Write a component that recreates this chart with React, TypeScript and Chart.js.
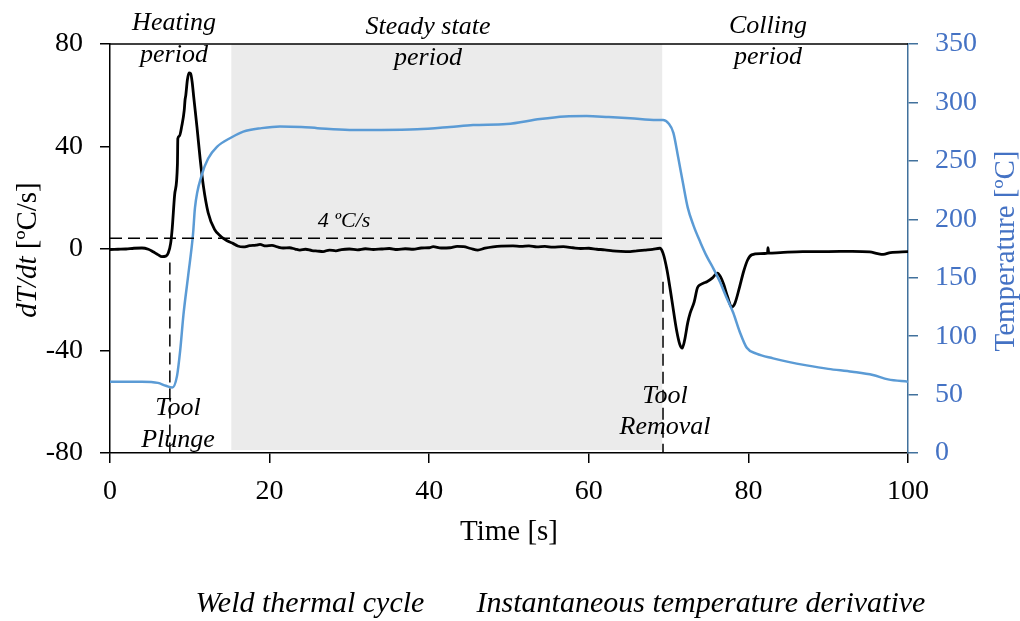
import React, { useEffect, useRef } from 'react';
import { Chart, registerables } from 'chart.js';

Chart.register(...registerables);

// ---- data ----
const timeDeriv = [
  0, 1, 2, 3, 4, 4.8, 5.4, 6.0, 6.5, 7.0, 7.3, 7.6, 7.8, 8.1, 8.45, 8.5, 8.7, 9.0, 9.3, 9.4, 9.5, 9.7, 9.9, 10.1, 10.3, 10.5,
  10.9, 11.3, 11.7, 12.3, 13.1, 13.8, 14.2, 15.0, 15.4, 16.0, 16.7, 17.5, 18.3, 18.8, 19.5, 20.3, 21.0, 21.7, 22.5, 23.2,
  23.8, 24.5, 25.3, 26.0, 26.7, 27.5, 28.3, 29.0, 30, 31, 32, 33, 34, 35, 36, 37, 38, 39, 40, 40.5, 41.5, 42.6, 43.5, 44.3,
  45.2, 46.1, 47, 48, 49, 50.5, 51.5, 52.5, 53.5, 54.5, 55.5, 56.8, 58, 59, 60, 61, 62, 63, 64, 65.2, 66, 67, 68, 68.9,
  69.3, 69.8, 70.4, 71.0, 71.4, 71.7, 72.0, 72.4, 72.7, 73.2, 73.6, 73.9, 74.4, 74.8, 75.5, 76.1, 76.5, 76.9, 77.4, 77.9,
  78.3, 78.9, 79.4, 79.9, 80.4, 81.5, 82.4, 82.45, 82.55, 84, 86.8, 90, 93, 95.2, 96.2, 96.9, 97.8, 100,
];
const dTdt = [
  -0.4, -0.3, -0.2, 0.1, 0.2, -0.3, -1.3, -2.4, -3.2, -3.0, -1.8, 2, 8, 21, 33, 43, 44, 48, 54, 58, 60, 66, 68.7, 68.5, 65, 59,
  47.5, 35, 24.5, 14, 7.5, 5, 4, 2.5, 2, 1, 0.6, 1.1, 1.3, 1.6, 1.0, 1.2, 0.6, 0.2, 0.3, -0.2,
  -0.6, -0.3, -0.8, -1.0, -1.2, -0.6, -0.9, -0.4, -0.2, -0.5, -0.1, -0.4, -0.2, 0.0, -0.4, -0.1, -0.3, 0.2, 0.3, 0.7, 0.2, 0.3, 0.8, 0.7,
  0.0, -0.6, 0.1, 0.6, 0.9, 1.0, 0.8, 1.0, 0.6, 0.8, 0.5, 0.7, 0.3, 0.0, 0.1, -0.3, -0.5, -0.9, -1.1, -1.2, -0.9, -0.6, -0.3, 0.1,
  -1.8, -8.4, -20, -32, -37.5, -39, -36, -29, -25.3, -21, -15.5, -14.3, -13.5, -13, -11.5, -9.6, -11, -14, -19, -22.9,
  -21.5, -15, -9, -4.5, -2.5, -2.0, -1.8, 0.3, -1.8, -1.6, -1.2, -1.2, -1.1, -1.3, -2.0, -2.3, -1.6, -1.2,
];

const timeTemp = [
  0, 4, 6, 7, 7.8, 8.4, 8.8, 9.2, 9.8, 10.4, 10.65, 11.5, 12.3, 13.4, 15.2, 16.7, 19, 21.3, 24, 26, 30, 34, 38.5, 42.6,
  45.5, 49.7, 53.9, 57, 59.7, 62.5, 65.2, 68.5, 69.3, 70, 70.6, 71.2, 71.8, 72.4, 73.1, 74, 74.8, 75.6, 76.4, 77.2, 78.1,
  78.9, 79.8, 81, 83.1, 85, 87.3, 90, 93, 95.6, 97.5, 100,
];
const temperature = [
  61, 61, 60, 57.5, 56, 66, 88, 118, 152, 187, 210, 238, 252, 262, 270, 275, 278, 279.5, 279, 278, 276.5, 276.5, 277, 279,
  280.7, 281.5, 285.8, 288, 288.4, 287.5, 286.5, 285, 285, 282, 274, 253, 231, 210, 195, 180, 168, 158, 147, 134, 120,
  104, 90, 85, 81, 78, 75, 72, 69.5, 66.7, 63, 61,
];

const xRange = [0, 100];
const xStep = 20;
const leftRange = [-80, 80];
const leftStep = 40;
const rightRange = [0, 350];
const rightStep = 50;

const steadyPeriod = [15.2, 69.2];
const plungeTime = 7.5;
const plungeLineTop = -5.5;
const removalTime = 69.3;
const removalLineTop = -13;
const thresholdRate = 4;
const thresholdEnd = 69.5;

const legendLabels = ['Weld thermal cycle', 'Instantaneous temperature derivative'];

const SERIF = '"Liberation Serif", "Times New Roman", serif';
const BLUE_LINE = '#5b9bd5';
const BLUE_TEXT = '#4472c4';
const BLUE_AXIS = '#41719c';

const overlay = {
  id: 'overlay',
  beforeDatasetsDraw(chart: any) {
    const { ctx, chartArea, scales } = chart;
    const x = scales.x;
    ctx.save();
    const x0 = x.getPixelForValue(steadyPeriod[0]);
    const x1 = x.getPixelForValue(steadyPeriod[1]);
    ctx.fillStyle = '#ebebeb';
    ctx.fillRect(x0, chartArea.top, x1 - x0, chartArea.bottom - chartArea.top - 3);
    ctx.restore();
  },
  afterDatasetsDraw(chart: any) {
    const { ctx, chartArea, scales } = chart;
    const x = scales.x;
    const y = scales.y;
    ctx.save();
    ctx.strokeStyle = '#000';
    ctx.lineWidth = 1.5;
    ctx.setLineDash([12, 6]);
    ctx.beginPath();
    ctx.moveTo(x.getPixelForValue(0), y.getPixelForValue(thresholdRate));
    ctx.lineTo(x.getPixelForValue(thresholdEnd), y.getPixelForValue(thresholdRate));
    ctx.stroke();
    ctx.beginPath();
    ctx.moveTo(x.getPixelForValue(plungeTime), y.getPixelForValue(plungeLineTop));
    ctx.lineTo(x.getPixelForValue(plungeTime), chartArea.bottom);
    ctx.stroke();
    ctx.beginPath();
    ctx.moveTo(x.getPixelForValue(removalTime), y.getPixelForValue(removalLineTop));
    ctx.lineTo(x.getPixelForValue(removalTime), chartArea.bottom);
    ctx.stroke();
    ctx.setLineDash([]);
    ctx.lineWidth = 1.5;
    ctx.beginPath();
    ctx.moveTo(chartArea.left, chartArea.top);
    ctx.lineTo(chartArea.right, chartArea.top);
    ctx.stroke();

    ctx.fillStyle = '#000';
    ctx.textAlign = 'center';
    ctx.textBaseline = 'alphabetic';
    ctx.font = `italic 26px ${SERIF}`;
    const txt = (s: string, px: number, py: number) => ctx.fillText(s, px, py);
    txt('Heating', 174, 30);
    txt('period', 174, 62);
    txt('Steady state', 428, 34);
    txt('period', 428, 65);
    txt('Colling', 768, 33);
    txt('period', 768, 64);
    txt('Tool', 178, 415);
    txt('Plunge', 178, 447);
    txt('Tool', 665, 403);
    txt('Removal', 665, 434);
    ctx.font = `italic 22px ${SERIF}`;
    txt('4 ºC/s', 344, 227);

    ctx.font = `29px ${SERIF}`;
    txt('Time [s]', 509, 540);

    ctx.save();
    ctx.translate(36, 250);
    ctx.rotate(-Math.PI / 2);
    ctx.font = `italic 29px ${SERIF}`;
    const a = 'dT/dt';
    const wa = ctx.measureText(a).width;
    ctx.font = `29px ${SERIF}`;
    const b = ' [ºC/s]';
    const wb = ctx.measureText(b).width;
    ctx.textAlign = 'left';
    const start = -(wa + wb) / 2;
    ctx.font = `italic 29px ${SERIF}`;
    ctx.fillText(a, start, 0);
    ctx.font = `29px ${SERIF}`;
    ctx.fillText(b, start + wa, 0);
    ctx.restore();

    ctx.save();
    ctx.translate(1014, 251);
    ctx.rotate(-Math.PI / 2);
    ctx.fillStyle = BLUE_TEXT;
    ctx.textAlign = 'center';
    ctx.font = `29px ${SERIF}`;
    ctx.fillText('Temperature [ºC]', 0, 0);
    ctx.restore();

    ctx.fillStyle = '#000';
    ctx.textAlign = 'center';
    ctx.font = `italic 30px ${SERIF}`;
    txt(legendLabels[0], 310, 612);
    txt(legendLabels[1], 701, 612);
    ctx.restore();
  },
};

export default function App() {
  const ref = useRef<HTMLCanvasElement | null>(null);
  useEffect(() => {
    if (!ref.current) return;
    const chart = new Chart(ref.current, {
      type: 'line',
      data: {
        datasets: [
          {
            label: legendLabels[1],
            data: timeDeriv.map((t, i) => ({ x: t, y: dTdt[i] })),
            borderColor: '#000',
            borderWidth: 2.8,
            pointRadius: 0,
            cubicInterpolationMode: 'monotone',
            yAxisID: 'y',
            order: 1,
          },
          {
            label: legendLabels[0],
            data: timeTemp.map((t, i) => ({ x: t, y: temperature[i] })),
            borderColor: BLUE_LINE,
            borderWidth: 2.5,
            pointRadius: 0,
            cubicInterpolationMode: 'monotone',
            yAxisID: 'y1',
            order: 0,
          },
        ],
      },
      options: {
        responsive: false,
        animation: false,
        devicePixelRatio: 1,
        layout: { padding: { top: 44, left: 0, right: 0, bottom: 0 } },
        plugins: { legend: { display: false }, tooltip: { enabled: false } },
        scales: {
          x: {
            type: 'linear',
            min: xRange[0],
            max: xRange[1],
            afterFit: (s: any) => { s.height = 168; },
            ticks: { stepSize: xStep, color: '#000', font: { family: SERIF, size: 28 }, padding: 12 },
            grid: { drawOnChartArea: false, color: '#000', tickLength: 10, lineWidth: 1.5 },
            border: { color: '#000', width: 1.5 },
          },
          y: {
            type: 'linear',
            position: 'left',
            min: leftRange[0],
            max: leftRange[1],
            afterFit: (s: any) => { s.width = 110; },
            ticks: { stepSize: leftStep, color: '#000', font: { family: SERIF, size: 28 }, padding: 17 },
            grid: { drawOnChartArea: false, color: '#000', tickLength: 10, lineWidth: 1.5 },
            border: { color: '#000', width: 1.5 },
          },
          y1: {
            type: 'linear',
            position: 'right',
            min: rightRange[0],
            max: rightRange[1],
            afterFit: (s: any) => { s.width = 112; },
            ticks: { stepSize: rightStep, color: BLUE_TEXT, font: { family: SERIF, size: 28 }, padding: 17 },
            grid: { drawOnChartArea: false, color: BLUE_AXIS, tickLength: 10, lineWidth: 1.5 },
            border: { color: BLUE_AXIS, width: 1.5 },
          },
        },
      },
      plugins: [overlay],
    } as any);
    return () => chart.destroy();
  }, []);
  return (
    <div style={{ position: 'absolute', left: 0, top: 0, width: 1020, height: 621, background: '#fff' }}>
      <canvas ref={ref} width={1020} height={621} />
    </div>
  );
}
